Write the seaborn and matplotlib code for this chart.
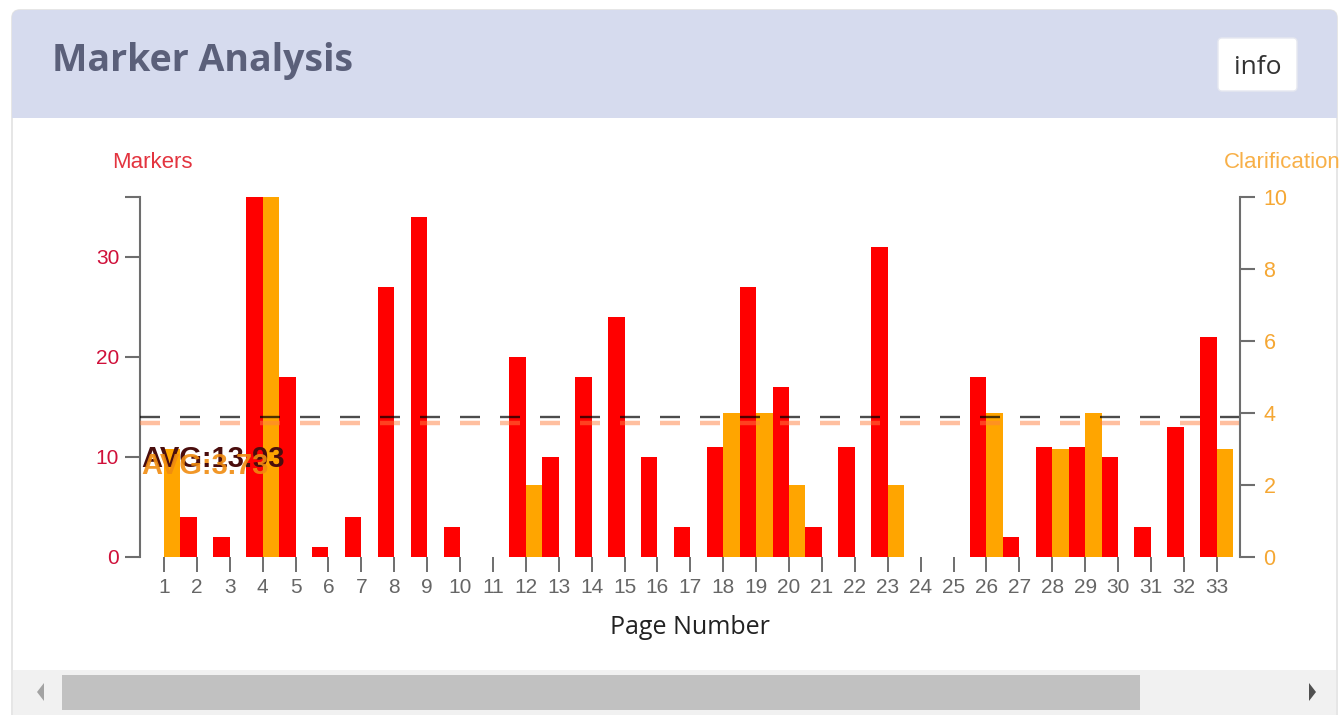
import numpy as np
import pandas as pd
import matplotlib
matplotlib.use("Agg")
import matplotlib.pyplot as plt
import matplotlib.patches as mpatches
from matplotlib.ticker import FixedLocator
import seaborn as sns

# ----------------------------
# Data
# ----------------------------
pages = list(range(1, 34))
markers = [0, 4, 2, 36, 18, 1, 4, 27, 34, 3, 0, 20, 10, 18, 24, 10, 3,
           11, 27, 17, 3, 11, 31, 0, 0, 18, 2, 11, 11, 10, 3, 13, 22]
clarifications = [3, 0, 0, 10, 0, 0, 0, 0, 0, 0, 0, 2, 0, 0, 0, 0, 0,
                  4, 4, 2, 0, 0, 2, 0, 0, 4, 0, 3, 4, 0, 0, 0, 3]
marker_ticks = [0, 10, 20, 30]
clar_ticks = [0, 2, 4, 6, 8, 10]
MARK_MAX = 36
CLAR_MAX = 10

df = pd.DataFrame({"page": pages, "markers": markers, "clarifications": clarifications})
avg_m = df.loc[df["markers"] > 0, "markers"].mean()
avg_c = df.loc[df["clarifications"] > 0, "clarifications"].mean()

# ----------------------------
# Style
# ----------------------------
sns.set_theme(style="white")
plt.rcParams["font.family"] = ["Liberation Sans", "DejaVu Sans"]
plt.rcParams["lines.scale_dashes"] = False

W, H = 1339, 715
RED = "#ff0000"
ORANGE = "#ffa500"
AXIS_GREY = "#6e6e6e"


def fx(x):
    return x / W


def fy(y):
    return 1 - y / H


fig = plt.figure(figsize=(W / 100, H / 100), dpi=100)
fig.patch.set_facecolor("white")

# card / header / scrollbar decoration in pixel coordinates
bg = fig.add_axes([0, 0, 1, 1], zorder=-10)
bg.set_xlim(0, W)
bg.set_ylim(H, 0)
bg.axis("off")
bg.add_patch(mpatches.FancyBboxPatch((12, 10), 1325, 720, boxstyle="round,pad=0,rounding_size=8",
                                     fc="white", ec="#e2e2e2", lw=1.2))
bg.add_patch(mpatches.FancyBboxPatch((12, 10), 1325, 108, boxstyle="round,pad=0,rounding_size=8",
                                     fc="#d6dbee", ec="none"))
bg.add_patch(mpatches.Rectangle((12, 60), 1325, 58, fc="#d6dbee", ec="none"))
bg.add_patch(mpatches.Rectangle((13, 670), 1323, 45, fc="#f1f1f1", ec="none"))
bg.add_patch(mpatches.Rectangle((62, 675), 1078, 35, fc="#c1c1c1", ec="none"))
bg.add_patch(mpatches.Polygon([(44, 683), (44, 701), (37, 692)], fc="#a3a3a3", ec="none"))
bg.add_patch(mpatches.Polygon([(1309, 683), (1309, 701), (1316, 692)], fc="#505050", ec="none"))
bg.add_patch(mpatches.FancyBboxPatch((1218, 38), 79, 53, boxstyle="round,pad=0,rounding_size=4",
                                     fc="white", ec="#e6e8f0", lw=1))
bg.text(1257.5, 67, "info", ha="center", va="center", fontsize=19,
        family=["Open Sans", "DejaVu Sans"], color="#333333")
bg.text(52, 61, "Marker Analysis", ha="left", va="center", fontsize=27, fontweight="bold",
        family=["Open Sans", "DejaVu Sans"], color="#5b607a")

# ----------------------------
# Chart
# ----------------------------
x0, x1 = 140, 1240
y_top, y_bot = 196.7, 556.7
tick1, tick33 = 164, 1216.7
spacing = (tick33 - tick1) / (pages[-1] - pages[0])
xl0 = pages[0] - (tick1 - x0) / spacing
xl1 = pages[-1] + (x1 - tick33) / spacing

ax = fig.add_axes([fx(x0), fy(y_bot), (x1 - x0) / W, (y_bot - y_top) / H])
ax.patch.set_visible(False)
ax2 = ax.twinx()

sns.barplot(x=df["page"] - 0.25, y=df["markers"], native_scale=True, orient="x", width=0.5,
            color=RED, saturation=1, errorbar=None, linewidth=0, ax=ax)
sns.barplot(x=df["page"] + 0.25, y=df["clarifications"], native_scale=True, orient="x", width=0.5,
            color=ORANGE, saturation=1, errorbar=None, linewidth=0, ax=ax2)

ax.set_xlim(xl0, xl1)
ax.set_ylim(0, MARK_MAX)
ax2.set_ylim(0, CLAR_MAX)
ax.set_xlabel("")
ax.set_ylabel("")
ax2.set_ylabel("")

# average lines (drawn on top axis, markers average converted to its scale)
ax2.axhline(avg_c, color="#ff8040", alpha=0.5, lw=3.2, dashes=(14.4, 14.4))
ax2.axhline(avg_m * CLAR_MAX / MARK_MAX, color="black", alpha=0.7, lw=1.7, dashes=(14.4, 14.4))
ax2.annotate(f"AVG:{avg_m:.2f}", xy=(0, avg_m * CLAR_MAX / MARK_MAX), xycoords=("axes fraction", "data"),
             xytext=(1, -36), textcoords="offset points", ha="left", va="baseline",
             fontsize=21, fontweight="bold", color="#4a0d0d", annotation_clip=False)
ax2.annotate(f"AVG:{avg_c:.2f}", xy=(0, avg_c), xycoords=("axes fraction", "data"),
             xytext=(1, -37), textcoords="offset points", ha="left", va="baseline",
             fontsize=21, fontweight="bold", color="#f08c10", alpha=0.9, annotation_clip=False)

# spines
for s in ["top", "right", "bottom"]:
    ax.spines[s].set_visible(False)
for s in ["top", "left", "bottom"]:
    ax2.spines[s].set_visible(False)
ax.spines["left"].set_color(AXIS_GREY)
ax.spines["left"].set_linewidth(1.5)
ax2.spines["right"].set_color(AXIS_GREY)
ax2.spines["right"].set_linewidth(1.5)

# ticks
ax.set_xticks(pages)
ax.set_xticklabels([str(p) for p in pages])
ax.tick_params(axis="x", direction="out", length=11, width=1.4, color=AXIS_GREY,
               labelsize=15, labelcolor="#666666", pad=4, bottom=True)
ax.set_yticks(marker_ticks)
ax.yaxis.set_minor_locator(FixedLocator([MARK_MAX]))
ax.tick_params(axis="y", which="both", direction="out", length=11, width=1.5, color=AXIS_GREY,
               labelsize=15, labelcolor="#d0103a", pad=4, left=True)
ax2.set_yticks(clar_ticks)
ax2.tick_params(axis="y", direction="out", length=11, width=1.5, color=AXIS_GREY,
                labelsize=15.5, labelcolor="#f5a733", pad=6, right=True)

fig.text(fx(112), fy(162), "Markers", ha="left", va="center", fontsize=16, color="#e3343f")
fig.text(fx(1224), fy(162), "Clarifications", ha="left", va="center", fontsize=16, color="#f8b048")
fig.text(fx(690), fy(628), "Page Number", ha="center", va="center", fontsize=18,
         family=["Open Sans", "DejaVu Sans"], color="#222222")

fig.savefig("out.png", dpi=100)
